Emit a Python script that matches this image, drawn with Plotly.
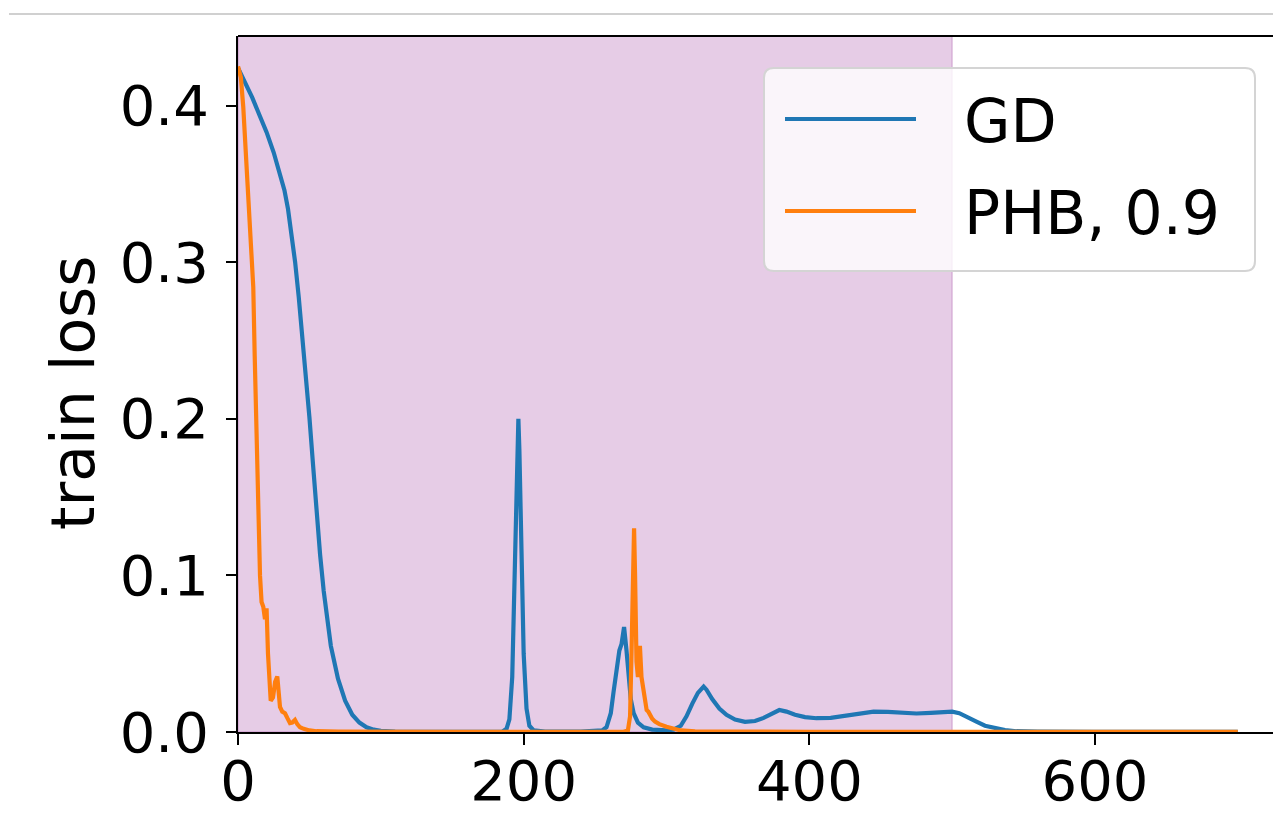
import plotly.graph_objects as go

# ---- data ----
gd_x = [0, 5, 10, 15, 20, 25, 30, 32.5, 35, 37.5, 40, 42.5, 45, 47.5, 50, 52.5, 55, 57.5, 60, 62.5, 65, 70,
        75, 80, 85, 90, 95, 100, 110, 130, 160,
        185, 188, 190, 192, 194, 195.5, 196.3, 197, 198.5, 200, 202, 204, 207, 215, 240,
        255, 258, 261, 263, 265, 267, 268.5, 270.3, 272, 273.5, 275, 277, 280, 284, 290, 300,
        305, 310, 314, 318, 322, 326, 328, 332, 337, 342, 348, 355, 362, 368, 374, 379, 384, 390,
        397, 405, 415, 425, 435, 445, 455, 465, 475, 485, 495, 500, 505, 510, 517, 523, 529, 537,
        545, 560, 600, 700]
gd_y = [0.424, 0.415, 0.405, 0.394, 0.383, 0.370, 0.355, 0.346, 0.334, 0.319, 0.300, 0.278, 0.254, 0.228,
        0.201, 0.171, 0.141, 0.113, 0.090, 0.071, 0.055, 0.034, 0.020, 0.011, 0.006, 0.003, 0.0015, 0.0008,
        0.0003, 0.0001, 0.0001,
        0.0002, 0.002, 0.008, 0.035, 0.11, 0.175, 0.200, 0.18, 0.11, 0.05, 0.015, 0.004, 0.001, 0.0002, 0.0002,
        0.001, 0.003, 0.012, 0.026, 0.040, 0.052, 0.056, 0.067, 0.052, 0.035, 0.021, 0.012, 0.006, 0.003,
        0.0015, 0.001,
        0.0015, 0.004, 0.010, 0.018, 0.025, 0.029, 0.027, 0.021, 0.015, 0.011, 0.008, 0.0065, 0.007, 0.009,
        0.012, 0.014, 0.013, 0.011, 0.0095, 0.0088, 0.009, 0.0105, 0.012, 0.013, 0.0128, 0.0122, 0.0118,
        0.0122, 0.0128, 0.013, 0.012, 0.010, 0.0066, 0.004, 0.0025, 0.0012, 0.0005, 0.0002, 0.0001, 0.0001]

phb_x = [0, 2, 3.7, 5.5, 7.2, 9, 10.7, 11.7, 12.6, 14.2, 15.4, 16.5, 17.7, 18.9, 20, 21, 22.9, 24.5, 26,
         27.5, 28.5, 29.4, 31, 32.9, 34.5, 36.4, 38, 39.9, 41.5, 43.4, 46, 50, 55, 70, 150, 270,
         273, 274.5, 275.5, 276.5, 277.3, 278, 279, 280, 281.4, 282.5, 283.4, 284.5, 285.5, 286.1, 287.3,
         288.4, 290, 292, 295, 300, 305, 310, 320, 340, 400, 700]
phb_y = [0.425, 0.418, 0.399, 0.367, 0.335, 0.305, 0.284, 0.24, 0.2, 0.135, 0.10, 0.083, 0.08, 0.072, 0.079,
         0.05, 0.02, 0.022, 0.032, 0.0355, 0.028, 0.016, 0.013, 0.012, 0.009, 0.0057, 0.006, 0.0077, 0.005,
         0.003, 0.002, 0.001, 0.0005, 0.0002, 0.0001, 0.0001,
         0.001, 0.01, 0.05, 0.11, 0.130, 0.10, 0.045, 0.035, 0.055, 0.035, 0.029, 0.02, 0.018, 0.014, 0.013,
         0.0108, 0.0085, 0.0066, 0.005, 0.0034, 0.002, 0.001, 0.0004, 0.0002, 0.0001, 0.0001]

series_names = ["GD", "PHB, 0.9"]
series_colors = ["#1f77b4", "#ff7f0e"]
x_ticks = [0, 200, 400, 600]
y_ticks = [0.0, 0.1, 0.2, 0.3, 0.4]
shade_range = [0, 500]

# ---- layout geometry (reference screen pixels; page body has an 8px margin) ----
OFF = 8
W, H = 1281 - OFF, 830 - OFF
L, T = 238 - OFF, 36 - OFF
BOTTOM_PX = 732 - OFF
B = H - BOTTOM_PX
PW = W - L
PH = BOTTOM_PX - T
FONT = "DejaVu Sans"


def fx(px):
    return (px - OFF - L) / PW


def fy(py):
    return (BOTTOM_PX - (py - OFF)) / PH


fig = go.Figure()
for xs, ys, name, col in [(gd_x, gd_y, series_names[0], series_colors[0]),
                          (phb_x, phb_y, series_names[1], series_colors[1])]:
    fig.add_trace(go.Scatter(x=xs, y=ys, mode="lines", name=name,
                             line=dict(color=col, width=4.2), showlegend=False))

shapes = []
shapes.append(dict(type="rect", xref="x", yref="paper", x0=shade_range[0], x1=shade_range[1], y0=0, y1=1,
                   fillcolor="rgba(128,0,128,0.2)", line=dict(color="rgba(128,0,128,0.2)", width=1.5),
                   layer="below"))
shapes.append(dict(type="line", xref="paper", yref="paper", x0=0, x1=1, y0=1, y1=1,
                   line=dict(color="black", width=2)))
shapes.append(dict(type="line", xref="paper", yref="paper", x0=fx(9), x1=fx(1281), y0=fy(14), y1=fy(14),
                   line=dict(color="#d0d0d0", width=2)))

bx0, by0, bx1, by1, r = 764, 68, 1255, 271, 10
path = (f"M {fx(bx0 + r)} {fy(by0)} L {fx(bx1 - r)} {fy(by0)} Q {fx(bx1)} {fy(by0)} {fx(bx1)} {fy(by0 + r)} "
        f"L {fx(bx1)} {fy(by1 - r)} Q {fx(bx1)} {fy(by1)} {fx(bx1 - r)} {fy(by1)} "
        f"L {fx(bx0 + r)} {fy(by1)} Q {fx(bx0)} {fy(by1)} {fx(bx0)} {fy(by1 - r)} "
        f"L {fx(bx0)} {fy(by0 + r)} Q {fx(bx0)} {fy(by0)} {fx(bx0 + r)} {fy(by0)} Z")
shapes.append(dict(type="path", xref="paper", yref="paper", path=path,
                   fillcolor="rgba(255,255,255,0.8)", line=dict(color="#d4d4d4", width=2)))
legend_rows = [119, 211]
annotations = []
for name, col, yy in zip(series_names, series_colors, legend_rows):
    shapes.append(dict(type="line", xref="paper", yref="paper", x0=fx(785), x1=fx(916), y0=fy(yy), y1=fy(yy),
                       line=dict(color=col, width=4)))
    annotations.append(dict(text=name, xref="paper", yref="paper", x=fx(962), y=fy(yy + 2),
                            xanchor="left", yanchor="middle", showarrow=False,
                            font=dict(family=FONT, size=60, color="black")))

annotations.append(dict(text="train loss", xref="paper", yref="paper", x=fx(73), y=fy(393),
                        xanchor="center", yanchor="middle", textangle=-90, showarrow=False,
                        font=dict(family=FONT, size=60, color="black")))

fig.update_layout(
    width=W, height=H,
    margin=dict(l=L, r=0, t=T, b=B, pad=0),
    plot_bgcolor="white", paper_bgcolor="white",
    shapes=shapes, annotations=annotations,
    showlegend=False,
    xaxis=dict(range=[0, PW / 1.4283], tickvals=x_ticks, ticktext=[str(v) for v in x_ticks],
               showgrid=False, zeroline=False, showline=True, linecolor="black", linewidth=2,
               ticks="outside", ticklen=11, tickwidth=2, tickcolor="black",
               tickfont=dict(family=FONT, size=56, color="black"), layer="below traces",
               ticklabelstandoff=-12),
    yaxis=dict(range=[0, 0.4444], tickvals=y_ticks, ticktext=[f"{v:.1f}" for v in y_ticks],
               showgrid=False, zeroline=False, showline=True, linecolor="black", linewidth=2,
               ticks="outside", ticklen=10, tickwidth=2, tickcolor="black",
               tickfont=dict(family=FONT, size=56, color="black"), ticklabelstandoff=6),
)

fig.write_html("out.html")
